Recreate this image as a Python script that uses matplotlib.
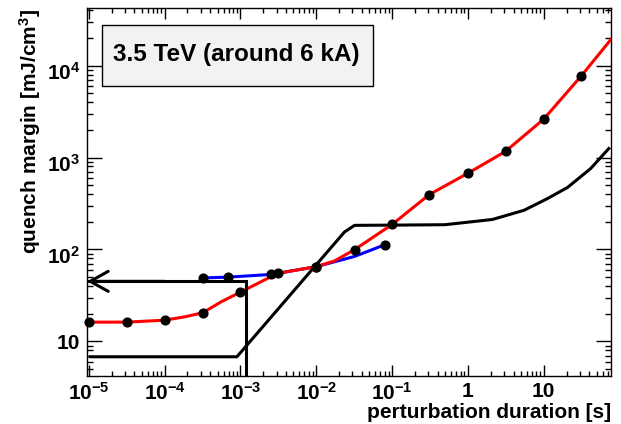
import matplotlib
matplotlib.use("Agg")
import matplotlib.pyplot as plt
import matplotlib.ticker as mticker
from matplotlib.patches import Rectangle
from matplotlib.transforms import ScaledTranslation

plt.rcParams['font.family'] = ['Liberation Sans', 'DejaVu Sans']
plt.rcParams['font.weight'] = 'bold'
plt.rcParams['mathtext.fontset'] = 'custom'
plt.rcParams['mathtext.rm'] = 'Liberation Sans:bold'
plt.rcParams['mathtext.it'] = 'Liberation Sans:bold'
plt.rcParams['mathtext.bf'] = 'Liberation Sans:bold'
plt.rcParams['mathtext.default'] = 'regular'

# ---------------- data ----------------
# red curve (fit through measured/computed points)
red_x = [1e-5, 3.2e-5, 1e-4, 1.85e-4, 3.2e-4, 5.6e-4, 1e-3, 3.1e-3, 1e-2, 1.74e-2,
         3.2e-2, 0.1, 0.31, 1.0, 3.13, 10.0, 31.0, 77.0]
red_y = [16.2, 16.2, 17.0, 18.5, 20.5, 27.0, 34.3, 55.0, 65.0, 75.0,
         99.5, 187, 396, 675, 1167, 2624, 7676, 19300]
# dots on the red curve
red_pts_x = [1e-5, 3.2e-5, 1e-4, 3.2e-4, 1e-3, 3.1e-3, 1e-2, 3.2e-2, 0.1, 0.31, 1.0, 3.13, 10.0, 31.0]
red_pts_y = [16.2, 16.2, 17.0, 20.5, 34.3, 55.5, 65.0, 99.5, 187, 396, 675, 1167, 2624, 7676]
# blue curve and its dots
blue_x = [3.2e-4, 6.8e-4, 2.55e-3, 1e-2, 3.2e-2, 0.0815]
blue_y = [49.0, 50.0, 53.5, 65.0, 84.0, 113.0]
blue_pts_x = [3.2e-4, 6.8e-4, 2.55e-3, 1e-2, 0.0815]
blue_pts_y = [49.0, 50.0, 54.5, 65.0, 113.0]
# black limit curve
black_x = [1.05e-5, 9.0e-4, 0.0236, 0.032, 0.1, 0.5, 2.1, 5.5, 11.2, 20.5, 41.5, 72.0]
black_y = [6.8, 6.8, 155, 183, 184, 186, 212, 267, 358, 472, 759, 1253]
# threshold box with arrow
threshold_level = 45.0
threshold_duration = 1.17e-3

x_ticks = [1e-5, 1e-4, 1e-3, 1e-2, 1e-1, 1, 10]
x_ticklabels = [r'$10^{-5}$', r'$10^{-4}$', r'$10^{-3}$', r'$10^{-2}$', r'$10^{-1}$', '1', '10']
y_ticks = [10, 100, 1000, 10000]
y_ticklabels = ['10', r'$10^{2}$', r'$10^{3}$', r'$10^{4}$']
xlim = (9.5e-6, 77)
ylim = (4.2, 42400)

title_text = '3.5 TeV (around 6 kA)'
xlabel_text = 'perturbation duration [s]'
ylabel_text = r'quench margin [mJ/cm$^{3}$]'

# ---------------- figure ----------------
W, H = 621, 424
fig = plt.figure(figsize=(W / 100, H / 100), dpi=100)
ax = fig.add_axes([87 / W, 1 - 376 / H, (611 - 87) / W, (376 - 8) / H])
ax.set_xscale('log')
ax.set_yscale('log')
ax.set_xlim(*xlim)
ax.set_ylim(*ylim)

lw = 2.2
ax.plot(black_x, black_y, color='black', lw=lw, zorder=3, solid_joinstyle='round')
ax.plot(red_x, red_y, color='#ff0000', lw=lw, zorder=4, solid_joinstyle='round')
ax.plot(blue_x, blue_y, color='#0000ff', lw=lw, zorder=3.5, solid_joinstyle='round')
ax.plot(red_pts_x, red_pts_y, 'o', color='black', ms=6.3, zorder=5, clip_on=False)
ax.plot(blue_pts_x, blue_pts_y, 'o', color='black', ms=6.3, zorder=5)

# threshold box
ax.plot([xlim[0], threshold_duration, threshold_duration],
        [threshold_level, threshold_level, ylim[0]], color='black', lw=lw, zorder=6,
        solid_joinstyle='miter')
ax.annotate('', xy=(xlim[0], threshold_level), xytext=(1e-4, threshold_level),
            arrowprops=dict(arrowstyle='->,head_length=1.3,head_width=0.72', color='black',
                            lw=lw, shrinkA=0, shrinkB=0), zorder=6)

# ticks
for axis in (ax.xaxis, ax.yaxis):
    axis.set_minor_locator(mticker.LogLocator(base=10, subs=range(2, 10), numticks=20))
    axis.set_minor_formatter(mticker.NullFormatter())
ax.xaxis.set_major_locator(mticker.FixedLocator(x_ticks))
ax.xaxis.set_major_formatter(mticker.FixedFormatter(x_ticklabels))
ax.yaxis.set_major_locator(mticker.FixedLocator(y_ticks))
ax.yaxis.set_major_formatter(mticker.FixedFormatter(y_ticklabels))
ax.tick_params(axis='x', which='major', direction='in', length=8, width=1, top=True,
               labelsize=15, pad=4.5)
ax.tick_params(axis='x', which='minor', direction='in', length=3.8, width=1, top=True)
ax.tick_params(axis='y', which='major', direction='in', length=11, width=1, right=True,
               labelsize=15, pad=5)
ax.tick_params(axis='y', which='minor', direction='in', length=4.3, width=1, right=True)
for s in ax.spines.values():
    s.set_linewidth(1.0)

for lab in ax.get_yticklabels():
    if '^' in lab.get_text():
        lab.set_transform(lab.get_transform() + ScaledTranslation(0, -5 / 100, fig.dpi_scale_trans))

# labels
fig.text(611 / W, 1 - 422 / H, xlabel_text, ha='right', va='bottom', fontsize=15,
         fontweight='bold')
fig.text(30 / W, 1 - 9 / H, ylabel_text, ha='center', va='top', rotation=90, fontsize=15,
         fontweight='bold')

# title box
fig.patches.append(Rectangle((102.3 / W, 1 - 86 / H), (372.7 - 102.3) / W, (86 - 25) / H,
                             transform=fig.transFigure, facecolor='#f2f2f2',
                             edgecolor='black', lw=1.0, zorder=10))
fig.text(236.5 / W, 1 - 60.5 / H, title_text, ha='center', va='baseline', fontsize=17.5,
         fontweight='bold', zorder=11)

fig.savefig('out.png', dpi=100)
